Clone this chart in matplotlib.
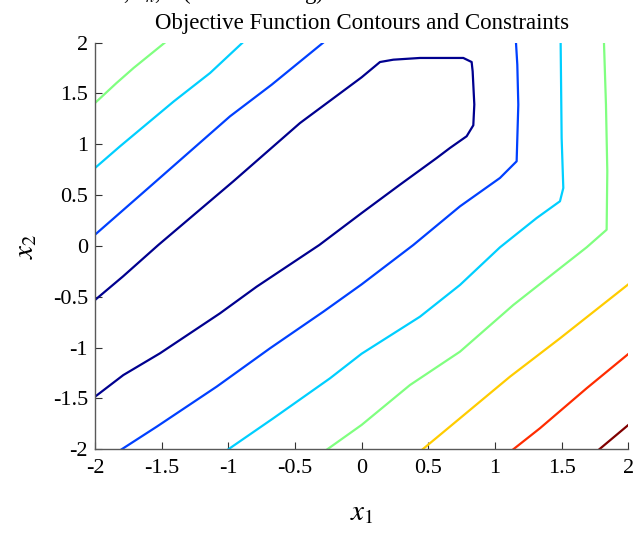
import matplotlib
matplotlib.use("Agg")
import matplotlib.pyplot as plt

plt.rcParams['font.family'] = ['Liberation Serif', 'DejaVu Serif']
plt.rcParams['mathtext.fontset'] = 'stix'

# Traced vertices of each contour line, grouped by contour level (0 = lowest)
navy_upper_x = [-2.0, -1.79, -1.525, -0.9625, -0.4625, 0.0, 0.1375, 0.2375, 0.4375, 0.7625, 0.825, 0.8325, 0.845, 0.8375, 0.7875, 0.6625, 0.5625, 0.2875, 0.0, -0.3175, -0.7875, -1.0625, -1.5125, -1.7875, -2.0]
navy_upper_y = [-0.532, -0.30, 0.009, 0.635, 1.208, 1.658, 1.808, 1.831, 1.848, 1.848, 1.808, 1.717, 1.39, 1.186, 1.078, 0.963, 0.864, 0.602, 0.323, 0.009, -0.401, -0.663, -1.056, -1.27, -1.483]

blue_upper_x = [-2.0, -1.6, -0.9875, -0.675, -0.287]
blue_upper_y = [0.110, 0.569, 1.274, 1.585, 2.0]

blue_lower_x = [-1.8, -1.5375, -1.0875, -0.6875, -0.2875, 0.0, 0.3875, 0.7375, 1.0375, 1.1625, 1.175, 1.1675, 1.1575]
blue_lower_y = [-2.0, -1.778, -1.384, -1.007, -0.647, -0.378, 0.009, 0.389, 0.668, 0.832, 1.388, 1.782, 2.0]

cyan_upper_x = [-2.0, -1.8125, -1.41, -1.137, -0.892]
cyan_upper_y = [0.766, 0.979, 1.42, 1.70, 2.0]

cyan_lower_x = [-1.0, -0.6625, -0.2375, 0.0, 0.4375, 0.7375, 1.0375, 1.3125, 1.4875, 1.5125, 1.5, 1.4925]
cyan_lower_y = [-2.0, -1.695, -1.302, -1.06, -0.696, -0.384, -0.014, 0.274, 0.439, 0.569, 1.061, 2.0]

green_upper_x = [-2.0, -1.84, -1.71, -1.475]
green_upper_y = [1.405, 1.60, 1.75, 2.0]

green_lower_x = [-0.2575, 0.0, 0.3625, 0.7375, 1.1375, 1.4875, 1.6875, 1.8375, 1.8425, 1.8325, 1.8175]
green_lower_y = [-2.0, -1.76, -1.368, -1.04, -0.581, -0.220, -0.014, 0.159, 0.734, 1.388, 2.0]

yellow_x = [0.4575, 0.7375, 1.1125, 1.4875, 2.0]
yellow_y = [-2.0, -1.695, -1.286, -0.909, -0.378]

red_x = [1.1375, 1.3375, 1.6875, 2.0]
red_y = [-2.0, -1.793, -1.40, -1.063]

darkred_x = [1.7825, 2.0]
darkred_y = [-2.0, -1.761]

contour_lines = [
    (0, navy_upper_x, navy_upper_y),
    (1, blue_upper_x, blue_upper_y),
    (1, blue_lower_x, blue_lower_y),
    (2, cyan_upper_x, cyan_upper_y),
    (2, cyan_lower_x, cyan_lower_y),
    (3, green_upper_x, green_upper_y),
    (3, green_lower_x, green_lower_y),
    (4, yellow_x, yellow_y),
    (5, red_x, red_y),
    (6, darkred_x, darkred_y),
]

tick_vals = [-2, -1.5, -1, -0.5, 0, 0.5, 1, 1.5, 2]
tick_labels = ['-2', '-1.5', '-1', '-0.5', '0', '0.5', '1', '1.5', '2']

title_text = 'Objective Function Contours and Constraints'
upper_title_text = 'Case 1, $x_n$,    (Initial Setting)'

# style: MATLAB-jet level colours
level_colors = ['#00008f', '#0040ff', '#00cfff', '#80ff80', '#ffcc00', '#ff2c00', '#800000']

fig = plt.figure(figsize=(6.43, 5.33), dpi=100)
ax = fig.add_axes([95/643, 1 - 449.3/533, (628.3 - 95)/643, (449.3 - 42.5)/533])

for lvl, xs, ys in contour_lines:
    ax.plot(xs, ys, color=level_colors[lvl], lw=1.6, solid_joinstyle='round')

ax.set_xlim(-2, 2)
ax.set_ylim(-2, 2)
ax.set_xticks(tick_vals)
ax.set_xticklabels(tick_labels)
ax.set_yticks(tick_vals)
ax.set_yticklabels(tick_labels)
for s in ['top', 'right']:
    ax.spines[s].set_visible(False)
for s in ['left', 'bottom']:
    ax.spines[s].set_color('0.35')
    ax.spines[s].set_linewidth(1.0)
ax.tick_params(direction='in', length=5, width=0.8, color='0.2', labelsize=16)
ax.tick_params(axis='x', pad=7)
ax.tick_params(axis='y', pad=5)

ax.set_title(title_text, fontsize=16.5, pad=10)
ax.set_xlabel('$x_1$', fontsize=21, labelpad=16)
ax.set_ylabel('$x_2$', fontsize=21, labelpad=10)

fig.text(62/643, 1 + 1.5/533, upper_title_text, fontsize=16.5, ha='left', va='baseline')

fig.savefig('out.png', dpi=100)
